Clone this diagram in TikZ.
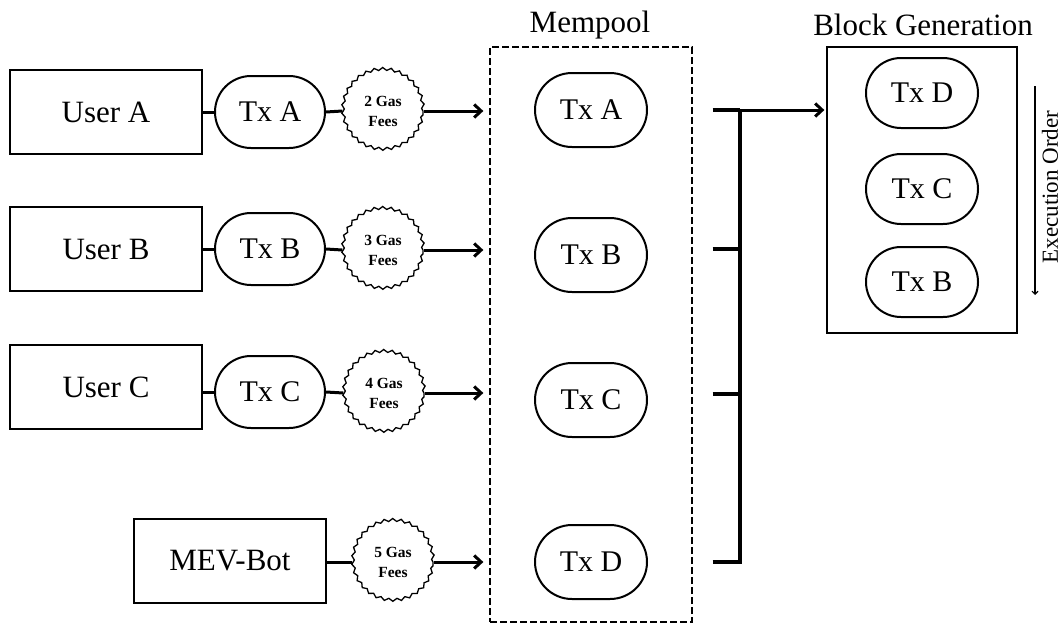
\documentclass[tikz,border=0pt]{standalone}
\usepackage{fontspec}
\setmainfont{Liberation Serif}
\usetikzlibrary{shapes.misc,arrows.meta,decorations.pathmorphing}

\begin{document}
\begin{tikzpicture}[x=1pt,y=-1pt,
  userbox/.style={draw, line width=1.3pt, minimum width=192pt, minimum height=84pt,
    inner sep=0pt, font=\fontsize{31}{35}\selectfont},
  txpill/.style={draw, line width=2pt, rounded rectangle, minimum width=110pt,
    minimum height=72pt, inner sep=0pt, font=\fontsize{30}{34}\selectfont},
  gasfee/.style={draw, circle, line width=1.3pt, minimum size=80pt, inner sep=0pt,
    align=center, font=\bfseries\fontsize{15.5}{20}\selectfont,
    decorate, decoration={snake, segment length=8.35pt, amplitude=1.4pt}},
  poolbox/.style={draw, line width=1.3pt, dash pattern=on 7pt off 3pt},
  blockbox/.style={draw, line width=1.3pt},
  heading/.style={font=\fontsize{31}{35}\selectfont, inner sep=0pt},
  link/.style={line width=3pt},
  feed/.style={line width=3pt, shorten >=6pt,
    -{Straight Barb[length=7pt,width=13pt]}},
  bus/.style={line width=3.5pt},
  order/.style={line width=1.1pt, -{Straight Barb[length=3pt,width=6pt]}}
]
\useasboundingbox (0,0) rectangle (1062,624);

% senders
\node[userbox] (ua) at (106,112) {User A};
\node[userbox] (ub) at (106,249) {User B};
\node[userbox] (uc) at (106,387) {User C};
\node[userbox] (bot) at (230,561) {MEV-Bot};

% signed transactions
\node[txpill] (ta) at (270,112) {Tx A};
\node[txpill] (tb) at (270,249) {Tx B};
\node[txpill] (tc) at (270,392) {Tx C};

% attached fees
\node[gasfee] (ga) at (383,111) {2 Gas\\Fees};
\node[gasfee] (gb) at (383,250) {3 Gas\\Fees};
\node[gasfee] (gc) at (384,393) {4 Gas\\Fees};
\node[gasfee] (gd) at (393,562) {5 Gas\\Fees};

% mempool
\node[poolbox, minimum width=202pt, minimum height=575pt] (mp) at (591,334.5) {};
\node[heading] (mplabel) at (590,25) {Mempool};
\node[txpill, minimum width=112pt, minimum height=74pt] (ma) at (591,110) {Tx A};
\node[txpill, minimum width=112pt, minimum height=74pt] (mb) at (591,255) {Tx B};
\node[txpill, minimum width=112pt, minimum height=74pt] (mc) at (591,400) {Tx C};
\node[txpill, minimum width=112pt, minimum height=74pt] (md) at (591,562) {Tx D};

% block
\node[blockbox, minimum width=190pt, minimum height=286pt] (blk) at (922,190) {};
\node[heading] (blklabel) at (923,25) {Block Generation};
\node[txpill, minimum width=112pt, minimum height=70pt] (bd) at (922,93) {Tx D};
\node[txpill, minimum width=112pt, minimum height=70pt] (bc) at (922,189) {Tx C};
\node[txpill, minimum width=112pt, minimum height=70pt] (bb) at (922,282) {Tx B};

% execution order
\coordinate (ordtop) at (1035,86);
\coordinate (ordbot) at (1035,295);
\draw[order] (ordtop) -- (ordbot);
\node[rotate=90, font=\fontsize{23}{26}\selectfont, inner sep=0pt] (ordlabel) at (1050,187) {Execution Order};

% user -> tx -> fee -> mempool
\draw[link] (ua.east) -- (ta.west);
\draw[link] (ta.east) -- (ga.west);
\draw[feed] (ga.east) -- (ga.east -| mp.west);
\draw[link] (ub.east) -- (tb.west);
\draw[link] (tb.east) -- (gb.west);
\draw[feed] (gb.east) -- (gb.east -| mp.west);
\draw[link] (uc.east |- tc.east) -- (tc.west);
\draw[link] (tc.east) -- (gc.west);
\draw[feed] (gc.east) -- (gc.east -| mp.west);
\draw[link] (bot.east |- gd.west) -- (gd.west);
\draw[feed] (gd.east) -- (gd.east -| mp.west);

% collecting bus from mempool to block
\coordinate (jA) at (740,110);
\coordinate (jB) at (740,249);
\coordinate (jC) at (740,394);
\coordinate (jD) at (740,562);
\draw[bus] ([xshift=20pt]mp.east |- jA) -- (jA);
\draw[bus] ([xshift=20pt]mp.east |- jB) -- (jB);
\draw[bus] ([xshift=20pt]mp.east |- jC) -- (jC);
\draw[bus, line join=miter] ([xshift=20pt]mp.east |- jD) -- (jD) -- ([yshift=-1.75pt]jA);
\draw[feed, shorten >=2pt] (jA) -- (jA -| blk.west);
\end{tikzpicture}
\end{document}
